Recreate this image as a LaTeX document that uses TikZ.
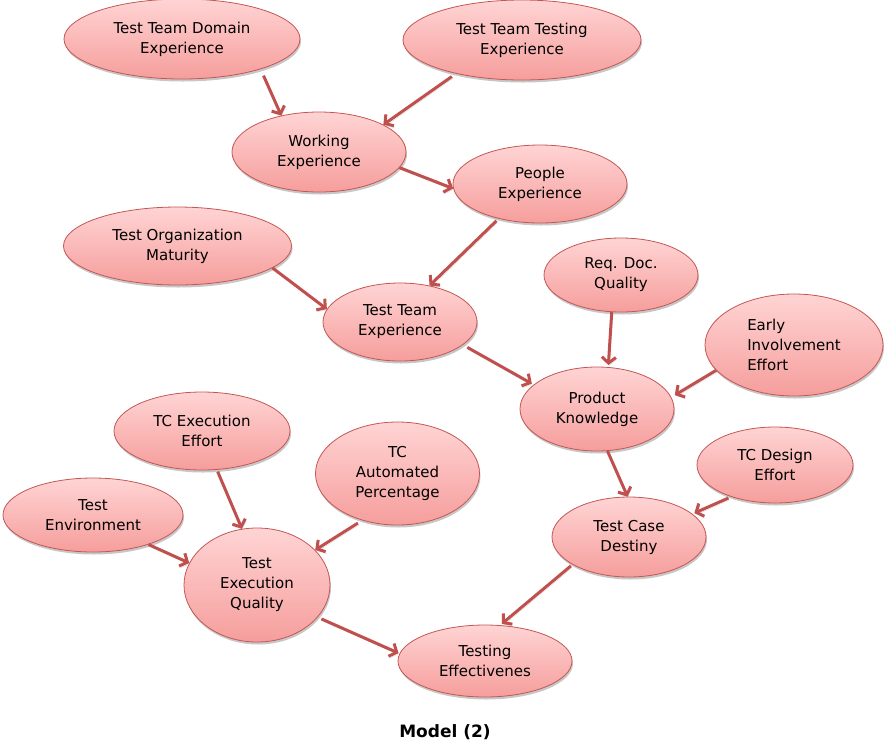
\documentclass[tikz,border=0pt]{standalone}
\usepackage{fontspec}
\setmainfont{DejaVu Sans}
\usetikzlibrary{shapes.geometric,arrows.meta,shadows}
\definecolor{edgered}{RGB}{192,80,77}
\definecolor{pinktop}{RGB}{255,212,212}
\definecolor{pinkbot}{RGB}{245,158,156}
\definecolor{rimred}{RGB}{196,86,84}
\tikzset{
  bubble/.style={ellipse, draw=rimred, line width=0.8pt, top color=pinktop,
    bottom color=pinkbot, inner sep=0pt, align=center,
    font=\fontsize{15}{20}\selectfont,
    drop shadow={shadow xshift=1pt, shadow yshift=-2.5pt, fill=black, opacity=0.22}},
  link/.style={draw=edgered, line width=3pt,
    -{Straight Barb[length=6pt,width=14pt]},
    preaction={draw=black, opacity=0.15, transform canvas={shift={(1pt,-2pt)}}}}
}
\begin{document}
\begin{tikzpicture}[x=1pt,y=-1pt]
\useasboundingbox (0,0) rectangle (887,740);
\node[bubble, minimum width=236pt, minimum height=80pt] (ttde) at (182,39) {Test Team Domain\\Experience};
\node[bubble, minimum width=238pt, minimum height=80pt] (ttte) at (522,40) {Test Team Testing\\Experience};
\node[bubble, minimum width=174pt, minimum height=80pt] (we) at (319,152) {Working\\Experience};
\node[bubble, minimum width=174pt, minimum height=78pt] (pe) at (540,184) {People\\Experience};
\node[bubble, minimum width=228pt, minimum height=78pt] (tom) at (177.5,246) {Test Organization\\Maturity};
\node[bubble, minimum width=154pt, minimum height=78pt] (tte) at (400,322) {Test Team\\Experience};
\node[bubble, minimum width=154pt, minimum height=74pt] (rdq) at (621,275) {Req. Doc.\\Quality};
\node[bubble, minimum width=178pt, minimum height=102pt, align=left] (eie) at (794,345) {Early\\Involvement\\Effort};
\node[bubble, minimum width=154pt, minimum height=84pt] (pk) at (597,409) {Product\\Knowledge};
\node[bubble, minimum width=176pt, minimum height=78pt] (tcee) at (202,431) {TC Execution\\Effort};
\node[bubble, minimum width=164pt, minimum height=103pt] (tcap) at (397.5,473.5) {TC\\Automated\\Percentage};
\node[bubble, minimum width=156pt, minimum height=76pt] (tcde) at (775,465) {TC Design\\Effort};
\node[bubble, minimum width=180pt, minimum height=74pt] (te) at (93,515) {Test\\Environment};
\node[bubble, minimum width=146pt, minimum height=114pt] (teq) at (257,585) {Test\\Execution\\Quality};
\node[bubble, minimum width=154pt, minimum height=80pt] (tcd) at (629,537) {Test Case\\Destiny};
\node[bubble, minimum width=174pt, minimum height=72pt] (tes) at (485,661) {Testing\\Effectivenes};

\draw[link, shorten <=7pt] (ttde.-21) -- (we.136);
\draw[link, shorten <=5pt] (ttte.207) -- (we.23);
\draw[link] (we.-11) -- (pe.183);
\draw[link, shorten <=3pt] (pe.220) -- (tte.51);
\draw[link] (tom.-13) -- (tte.170);
\draw[link, shorten <=5pt, shorten >=2pt] (tte.-20) -- (pk.159);
\draw[link, shorten >=2pt] (rdq.256) -- (pk.75);
\draw[link, shorten >=4pt] (eie.198) -- (pk.9);
\draw[link] (pk.284) -- (tcd.92);
\draw[link, shorten <=3pt, shorten >=2pt] (tcde.216) -- (tcd.20);
\draw[link, shorten <=2pt, shorten >=2pt] (tcd.206) -- (tes.67);
\draw[link, shorten <=2pt] (tcee.291) -- (teq.105);
\draw[link] (te.332) -- (teq.162);
\draw[link, shorten <=5pt] (tcap.233) -- (teq.31);
\draw[link, shorten <=4pt, shorten >=1pt] (teq.332) -- (tes.175);

\node[anchor=base, font=\fontsize{17}{20}\selectfont\bfseries] (cap) at (445,737) {Model (2)};
\end{tikzpicture}
\end{document}
